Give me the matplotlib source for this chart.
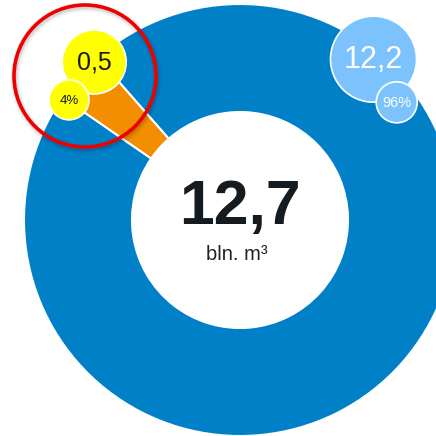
import matplotlib
matplotlib.use("Agg")
import matplotlib.pyplot as plt
from matplotlib.patches import Circle
import numpy as np

# data
labels = ["other", "main"]
values = [0.5, 12.2]
shares = ["4%", "96%"]
total_label = "12,7"
unit_label = "bln. m³"
value_labels = ["0,5", "12,2"]

colors = ["#f28e00", "#0080c6"]
bubble_colors = ["#ffff00", "#7cc3fd"]
text_colors = ["#1a1a1a", "white"]

plt.rcParams["font.family"] = ["Liberation Sans", "DejaVu Sans"]

W = 436
cx, cy = 240, 436 - 220
R = 216

fig = plt.figure(figsize=(4.36, 4.36), dpi=100)
ax = fig.add_axes([0, 0, 1, 1])

ax.pie(values, center=(cx, cy), radius=R, startangle=131.2,
       counterclock=True, colors=colors,
       wedgeprops=dict(width=R / 2, edgecolor="white", linewidth=1.5))

ax.set_xlim(0, W)
ax.set_ylim(0, W)
ax.set_aspect("equal")
ax.axis("off")

# centre text
ax.text(cx, 436 - 207, total_label, ha="center", va="center",
        fontsize=45, fontweight="bold", color="#141b21")
ax.text(cx - 3, 436 - 254, unit_label, ha="center", va="center",
        fontsize=14.5, color="#222222")

# bubbles: (angle deg, radius px, size px) for value and share
bubble_pos = [
    [(132.7, 215, 32), (144.9, 209, 20)],
    [(50.3, 209, 43), (36.9, 196, 20.5)],
]
font_sizes = [[18, 9.5], [22, 10.5]]

for i in range(len(values)):
    for j, txt in enumerate([value_labels[i], shares[i]]):
        ang, r, s = bubble_pos[i][j]
        bx = cx + r * np.cos(np.radians(ang))
        by = cy + r * np.sin(np.radians(ang))
        ax.add_patch(Circle((bx, by), s, facecolor=bubble_colors[i],
                            edgecolor="white", linewidth=1.2, zorder=5 + j))
        ax.text(bx, by - 1, txt, ha="center", va="center",
                fontsize=font_sizes[i][j], color=text_colors[i], zorder=7)

# red highlight ring with a soft shadow
for k, a in enumerate([0.03, 0.05, 0.08]):
    ax.add_patch(Circle((86, 436 - 78), 71, fill=False,
                        edgecolor="black", linewidth=7 - 2 * k, alpha=a, zorder=8))
ax.add_patch(Circle((85, 436 - 76), 71, fill=False,
                    edgecolor="#ee0000", linewidth=2.6, zorder=9))

fig.savefig("out.png", dpi=100)
